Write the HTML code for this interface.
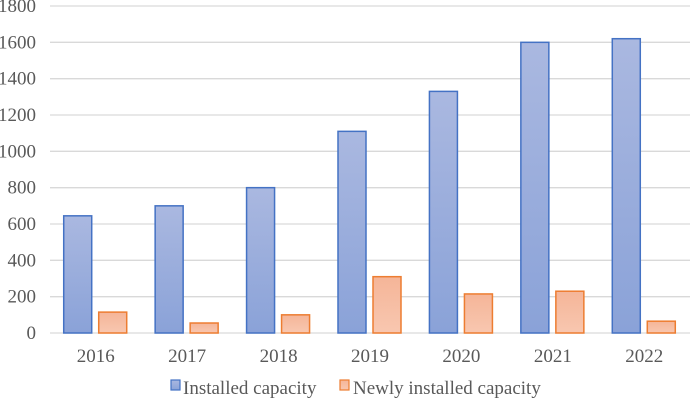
<!DOCTYPE html>
<html><head><meta charset="utf-8"><style>
body{margin:0;background:#fff;}
svg text{font-family:"Liberation Serif","Times New Roman",serif;fill:#595959;}
</style></head><body>
<svg width="692" height="404">
<defs>
<linearGradient id="gb" x1="0" y1="0" x2="0" y2="1"><stop offset="0" stop-color="#aab8e0"/><stop offset="1" stop-color="#8aa2d8"/></linearGradient>
<linearGradient id="go" x1="0" y1="0" x2="0" y2="1"><stop offset="0" stop-color="#f5b598"/><stop offset="1" stop-color="#f8c7b0"/></linearGradient>
</defs>
<g id="grid"></g><g id="bars"></g><g id="xl"></g>
<g>
<rect x="171" y="380" width="9" height="10" fill="url(#gb)" stroke="#4472c4" stroke-width="1.2"/>
<text x="183" y="394" font-size="19" font-family="Liberation Serif, serif">Installed capacity</text>
<rect x="340" y="380" width="9" height="10" fill="url(#go)" stroke="#ed7d31" stroke-width="1.2"/>
<text x="353" y="394" font-size="19" font-family="Liberation Serif, serif">Newly installed capacity</text>
</g>
</svg>
<script>
const categories=["2016","2017","2018","2019","2020","2021","2022"];
const installed=[645,700,800,1110,1330,1600,1620];
const newly=[115,55,100,310,215,230,65];
const yTicks=[0,200,400,600,800,1000,1200,1400,1600,1800];
const NS="http://www.w3.org/2000/svg";
const x0=50,x1=690,yb=333,yt=6,ymax=1800;
const bw=(x1-x0)/categories.length;
const y=v=>yb-(v/ymax)*(yb-yt);
const xc=i=>x0+bw*(i+0.5);
function mk(t,a,p){const e=document.createElementNS(NS,t);for(const k in a)e.setAttribute(k,a[k]);p.appendChild(e);return e;}
const g=document.getElementById('grid'),b=document.getElementById('bars'),xl=document.getElementById('xl');
yTicks.forEach(v=>{
 const l=mk('line',{x1:x0,x2:x1,y1:y(v),y2:y(v),stroke:'#d9d9d9','stroke-width':1.3},g);
 
 
 const t=mk('text',{x:36,y:y(v)+6,'font-size':19,'text-anchor':'end','font-family':'Liberation Serif, serif'},g);
 t.textContent=v;
 
 
});
categories.forEach((c,i)=>{
 const cx=xc(i);
 const r1=mk('rect',{x:cx-32,y:y(installed[i]),width:28,height:yb-y(installed[i]),fill:'url(#gb)',stroke:'#4472c4','stroke-width':1.5},b);
 
 
 const r2=mk('rect',{x:cx+3,y:y(newly[i]),width:28,height:yb-y(newly[i]),fill:'url(#go)',stroke:'#ed7d31','stroke-width':1.5},b);
 
 
 const t=mk('text',{x:cx,y:362,'font-size':19,'text-anchor':'middle','font-family':'Liberation Serif, serif'},xl);
 t.textContent=c;
 
 
});
</script>
</body></html>
